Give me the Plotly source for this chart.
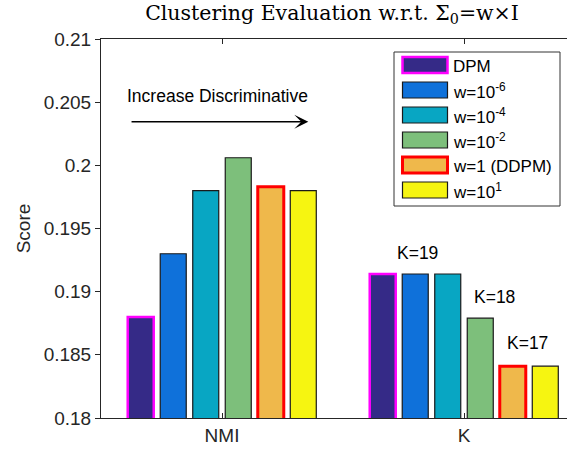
import plotly.graph_objects as go

# ---------------- data ----------------
categories = ["NMI", "K"]
series_names = ["DPM", "w=10<sup>-6</sup>", "w=10<sup>-4</sup>", "w=10<sup>-2</sup>",
                "w=1 (DDPM)", "w=10<sup>1</sup>"]
nmi_scores = [0.1880, 0.1930, 0.1980, 0.2006, 0.1983, 0.1980]
k_scores = [0.1914, 0.1914, 0.1914, 0.1879, 0.1841, 0.1841]
fill_colors = ["#352A87", "#0F71DA", "#08A6C3", "#7DBF7B", "#EFB84B", "#F6F511"]
edge_colors = ["#FF00FF", "#1A1A1A", "#1A1A1A", "#1A1A1A", "#FF0000", "#1A1A1A"]
edge_widths = [2.5, 1.2, 1.2, 1.2, 3, 1.2]
ytick_vals = [0.18, 0.185, 0.19, 0.195, 0.2, 0.205, 0.21]
ytick_text = ["0.18", "0.185", "0.19", "0.195", "0.2", "0.205", "0.21"]
k_labels = ["K=19", "K=18", "K=17"]
k_label_x = [0.806, 1.126, 1.262]
k_label_y = [0.19309, 0.18960, 0.18591]

W, H = 567, 451
ML, MR, MT, MB = 101, 0, 39, 33
PW, PH = W - ML - MR, H - MT - MB
AXC = "#262626"

fig = go.Figure()
for name, yn, yk, fc, ec, ew in zip(series_names, nmi_scores, k_scores,
                                     fill_colors, edge_colors, edge_widths):
    fig.add_trace(go.Bar(
        x=categories, y=[yn, yk], name=name, showlegend=False,
        marker=dict(color=fc, line=dict(color=ec, width=ew)),
    ))

def px_x(p):
    return (p - ML) / PW

def px_y(p):
    return (H - MB - p) / PH

shapes = []
annotations = []

# custom legend (box + swatches + labels)
shapes.append(dict(type="rect", xref="paper", yref="paper",
                   x0=px_x(394), x1=px_x(560), y0=px_y(206), y1=px_y(52),
                   line=dict(color="#333333", width=1), fillcolor="white", layer="above"))
for i, (name, fc, ec, ew) in enumerate(zip(series_names, fill_colors, edge_colors, edge_widths)):
    cy = 65 + 25 * i
    shapes.append(dict(type="rect", xref="paper", yref="paper",
                       x0=px_x(402.5), x1=px_x(447.5), y0=px_y(cy + 8), y1=px_y(cy - 8),
                       line=dict(color=ec, width=ew), fillcolor=fc, layer="above"))
    annotations.append(dict(xref="paper", yref="paper", x=px_x(451), y=px_y(cy + 1),
                            text=name, showarrow=False, xanchor="left", yanchor="middle",
                            font=dict(family="Liberation Sans, Arial", size=17, color="black")))

# K labels
for t, xx, yy in zip(k_labels, k_label_x, k_label_y):
    annotations.append(dict(x=xx, y=yy, xref="x", yref="y", text=t, showarrow=False,
                            xanchor="center", yanchor="middle",
                            font=dict(family="Liberation Sans, Arial", size=17.5, color="black")))

# arrow + text
annotations.append(dict(x=-0.0186, y=0.20545, xref="x", yref="y",
                        text="Increase Discriminative", showarrow=False,
                        xanchor="center", yanchor="middle",
                        font=dict(family="Liberation Sans, Arial", size=17.5, color="black")))
annotations.append(dict(x=0.3566, y=0.20345, ax=-0.380, ay=0.20345,
                        xref="x", yref="y", axref="x", ayref="y", text="",
                        showarrow=True, arrowhead=3, arrowsize=1.8, arrowwidth=1.3,
                        arrowcolor="black", standoff=0, startstandoff=0))

fig.update_layout(
    width=W, height=H, autosize=False,
    margin=dict(l=ML, r=MR, t=MT, b=MB, pad=0),
    paper_bgcolor="white", plot_bgcolor="white",
    barmode="group", bargap=0.194, bargroupgap=0.2,
    showlegend=False,
    title=dict(text="Clustering Evaluation w.r.t. Σ<sub>0</sub>=w×I",
               x=332 / W, xref="container", xanchor="center",
               y=1 - 13 / H, yref="container", yanchor="middle",
               font=dict(family="DejaVu Serif, serif", size=20.5, color="black")),
    shapes=shapes, annotations=annotations,
)
fig.update_xaxes(type="category", range=[-0.5, -0.5 + PW / 242.0],
                 showline=True, linecolor=AXC, linewidth=1, mirror="ticks",
                 ticks="inside", ticklen=5, tickcolor=AXC,
                 tickfont=dict(family="Liberation Sans, Arial", size=19, color=AXC),
                 showgrid=False, zeroline=False)
fig.update_yaxes(range=[0.18, 0.21], tickvals=ytick_vals, ticktext=ytick_text,
                 showline=True, linecolor=AXC, linewidth=1, mirror=False,
                 ticks="outside", ticklen=5, tickcolor=AXC,
                 tickfont=dict(family="Liberation Sans, Arial", size=19, color=AXC),
                 title=dict(text="Score", standoff=8,
                            font=dict(family="Liberation Sans, Arial", size=19, color=AXC)),
                 showgrid=False, zeroline=False)

fig.write_html("out.html")
